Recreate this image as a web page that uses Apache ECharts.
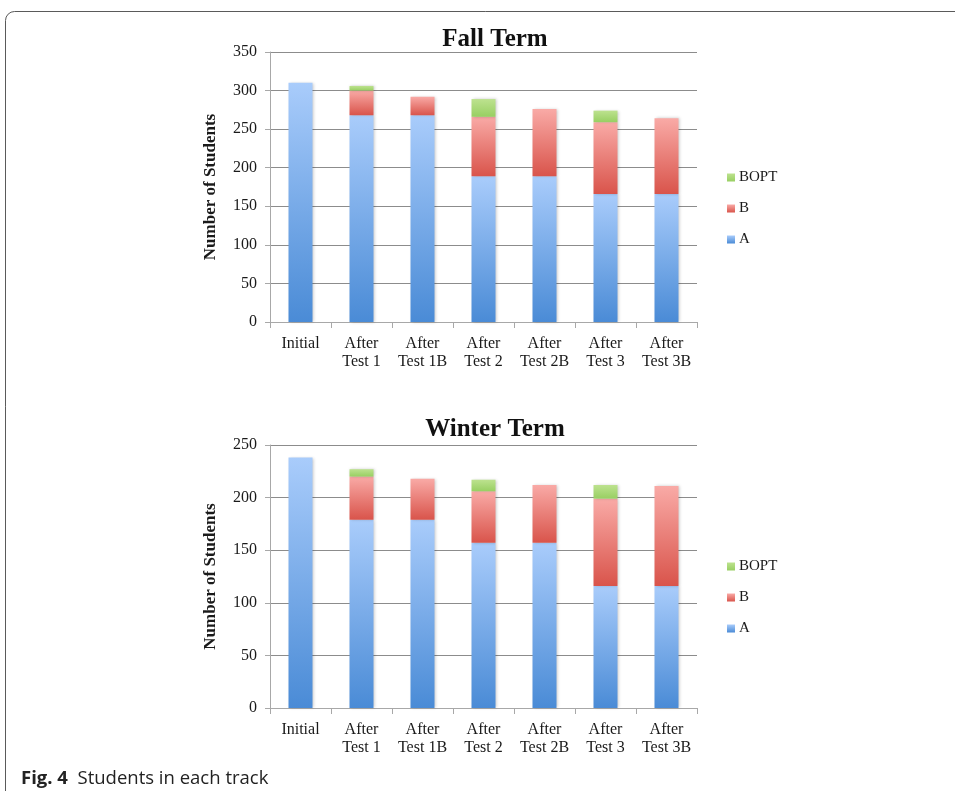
<!DOCTYPE html>
<html>
<head>
<meta charset="utf-8">
<script src="https://cdn.jsdelivr.net/npm/echarts@6/dist/echarts.min.js"></script>
<style>
  html, body { margin: 0; padding: 0; background: #fff; }
  #chart { width: 955px; height: 791px; }
</style>
</head>
<body>
<div id="chart"></div>
<script>
// Stage labels along the x axis
const categories = ['Initial', 'After\nTest 1', 'After\nTest 1B', 'After\nTest 2', 'After\nTest 2B', 'After\nTest 3', 'After\nTest 3B'];

// Fall term: students per track at each stage
const fallA    = [310, 268, 268, 189, 189, 166, 166];
const fallB    = [0, 32, 24, 77, 87, 93, 98];
const fallBOPT = [0, 6, 0, 23, 0, 15, 0];

// Winter term: students per track at each stage
const winterA    = [238, 179, 179, 157, 157, 116, 116];
const winterB    = [0, 41, 39, 49, 55, 83, 95];
const winterBOPT = [0, 7, 0, 11, 0, 13, 0];

const legendOrder = ['BOPT', 'B', 'A'];

const serif = '"Liberation Serif", "DejaVu Serif", serif';
const sans = '"Open Sans", "Noto Sans", sans-serif';

function grad(top, bottom) {
  return new echarts.graphic.LinearGradient(0, 0, 0, 1, [
    { offset: 0, color: top },
    { offset: 1, color: bottom }
  ]);
}
const fills = {
  A: grad('#a9ccfb', '#4a8bd6'),
  B: grad('#f9aaa6', '#d9544b'),
  BOPT: grad('#bde28f', '#98cf62')
};

function barSeries(name, data, idx) {
  return {
    name: name,
    type: 'bar',
    stack: 'term' + idx,
    xAxisIndex: idx,
    yAxisIndex: idx,
    barWidth: 24,
    data: data,
    itemStyle: {
      color: fills[name],
      shadowBlur: 3,
      shadowColor: 'rgba(0,0,0,0.22)',
      shadowOffsetX: 1
    },
    emphasis: { disabled: true }
  };
}

function xAxisCfg(idx) {
  return {
    type: 'category',
    gridIndex: idx,
    data: categories,
    axisLine: { lineStyle: { color: '#a8a8a8' } },
    axisTick: { show: true, length: 6, lineStyle: { color: '#a8a8a8' } },
    axisLabel: { fontFamily: serif, fontSize: 16, color: '#1a1a1a', lineHeight: 18, margin: 13, interval: 0 }
  };
}

function yAxisCfg(idx, max) {
  return {
    type: 'value',
    gridIndex: idx,
    min: 0,
    max: max,
    interval: 50,
    name: 'Number of Students',
    nameLocation: 'middle',
    nameRotate: 90,
    nameGap: 51,
    nameTextStyle: { fontFamily: serif, fontSize: 17, fontWeight: 'bold', color: '#1a1a1a' },
    axisLine: { show: true, lineStyle: { color: '#a8a8a8' } },
    axisTick: { show: true, length: 5, lineStyle: { color: '#a8a8a8' } },
    axisLabel: { fontFamily: serif, fontSize: 16, color: '#1a1a1a', margin: 13 },
    splitLine: { lineStyle: { color: '#8c8c8c', width: 1 } }
  };
}

function legendCfg(top) {
  return {
    data: legendOrder,
    orient: 'vertical',
    left: 722,
    top: top,
    itemWidth: 8,
    itemHeight: 8,
    itemGap: 16,
    icon: 'rect',
    selectedMode: false,
    textStyle: { fontFamily: serif, fontSize: 15, color: '#1a1a1a', padding: [0, 0, 0, -1] }
  };
}

const chart = echarts.init(document.getElementById('chart'), null, { renderer: 'canvas' });

chart.setOption({
  animation: false,
  backgroundColor: '#fff',
  title: [
    { text: 'Fall Term', left: 490, top: 22, textAlign: 'center',
      textStyle: { fontFamily: serif, fontSize: 25, fontWeight: 'bold', color: '#111' } },
    { text: 'Winter Term', left: 490, top: 412, textAlign: 'center',
      textStyle: { fontFamily: serif, fontSize: 25, fontWeight: 'bold', color: '#111' } }
  ],
  legend: [legendCfg(165), legendCfg(554)],
  grid: [
    { left: 270, right: 258, top: 52, height: 270 },
    { left: 270, right: 258, top: 445, height: 263 }
  ],
  xAxis: [xAxisCfg(0), xAxisCfg(1)],
  yAxis: [yAxisCfg(0, 350), yAxisCfg(1, 250)],
  series: [
    barSeries('A', fallA, 0),
    barSeries('B', fallB, 0),
    barSeries('BOPT', fallBOPT, 0),
    barSeries('A', winterA, 1),
    barSeries('B', winterB, 1),
    barSeries('BOPT', winterBOPT, 1)
  ],
  graphic: [
    {
      type: 'rect',
      silent: true,
      shape: { x: 5.5, y: 11.5, width: 1000, height: 1000, r: [9, 0, 0, 0] },
      style: { fill: null, stroke: '#5a5a5a', lineWidth: 1 }
    },
    {
      type: 'text',
      left: 21,
      top: 769,
      style: {
        text: '{b|Fig. 4}  Students in each track',
        font: '18.5px ' + sans,
        fill: '#222',
        rich: {
          b: { fontFamily: sans, fontSize: 18.5, fontWeight: 'bold', fill: '#222' }
        }
      }
    }
  ]
});
</script>
</body>
</html>
